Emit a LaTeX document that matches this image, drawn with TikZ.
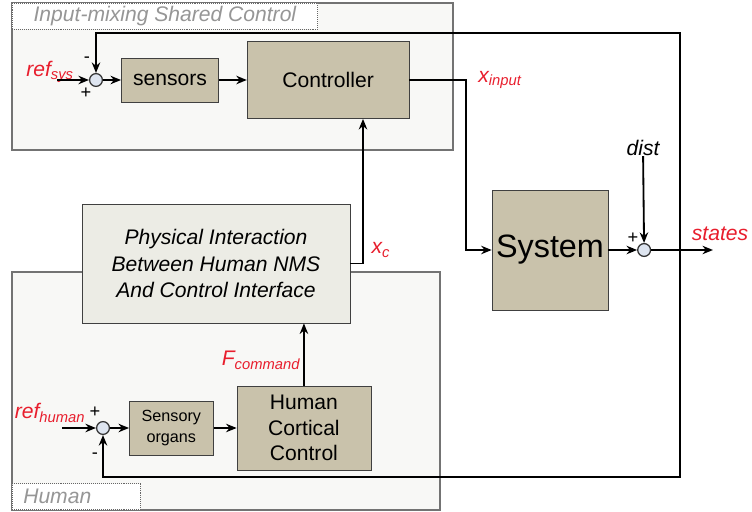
\documentclass[tikz,border=0pt]{standalone}
\usepackage{fontspec}
\setmainfont{Liberation Sans}
\usetikzlibrary{arrows.meta,positioning,calc}

\definecolor{blockfill}{RGB}{201,194,171}
\definecolor{plantfill}{RGB}{236,236,229}
\definecolor{panelfill}{RGB}{248,248,246}
\definecolor{panelline}{RGB}{115,115,115}
\definecolor{sumfill}{RGB}{222,229,240}
\definecolor{sigred}{RGB}{232,30,45}
\definecolor{taggray}{RGB}{150,150,150}

\begin{document}
\begin{tikzpicture}[
    x=0.025cm, y=-0.025cm,
    block/.style={rectangle, draw=black!75, fill=blockfill, align=center, inner sep=2pt, font=\fontsize{15}{18}\selectfont},
    sumpt/.style={circle, draw=black!80, fill=sumfill, minimum size=0.32cm, inner sep=0pt, line width=0.9pt},
    arrow/.style={->, >={Stealth[length=7.5pt, width=6pt]}, line width=1.3pt},
    signal/.style={text=sigred, font=\fontsize{15}{18}\selectfont\itshape, inner sep=0pt},
    sign/.style={font=\fontsize{13}{13}\selectfont, inner sep=0pt},
    panel/.style={draw=panelline, fill=panelfill, line width=0.8pt},
    tag/.style={draw=black!60, densely dotted, fill=white, text=taggray, font=\fontsize{15}{18}\selectfont\itshape, inner sep=0pt, minimum height=0.65cm}
]
    \useasboundingbox (0,0) rectangle (752,512);

    % the two shaded groups
    \draw[panel] (12,3) rectangle (453,150);
    \draw[panel] (12,272) rectangle (440,510);
    \node[tag, anchor=north west, minimum width=7.63cm] (sharedtag) at (12,3) {Input-mixing Shared Control};
    \node[tag, anchor=south west, text width=2.65cm, inner xsep=0.275cm, align=left] (humantag) at (12,510) {Human};

    % shared control loop
    \node[sumpt] (sumsys) at (96,80) {};
    \node[block, right=0.45cm of sumsys, minimum width=2.43cm, minimum height=1.1cm] (sensors) {sensors};
    \node[block, right=0.7cm of sensors, minimum width=4.05cm, minimum height=1.93cm] (ctrl) {Controller};

    % plant and disturbance
    \node[block, minimum width=2.9cm, minimum height=3cm, font=\fontsize{23}{26}\selectfont] (sys) at (550,250) {System};
    \node[sumpt, right=0.72cm of sys] (sumdist) {};
    \node[font=\fontsize{15}{18}\selectfont\itshape, inner sep=0pt] (dist) at (643,148) {dist};

    % interface between operator and controller
    \node[block, fill=plantfill, minimum width=6.7cm, minimum height=2.98cm, font=\fontsize{15}{19}\selectfont\itshape] (pi) at (216,263.5) {Physical Interaction\\Between Human NMS\\And Control Interface};

    % human loop
    \node[sumpt] (sumhum) at (103,428) {};
    \node[block, right=0.475cm of sumhum, minimum width=2.1cm, minimum height=1.35cm, font=\fontsize{11.5}{15}\selectfont] (organs) {Sensory\\organs};
    \node[block, right=0.575cm of organs, minimum width=3.35cm, minimum height=2.1cm, font=\fontsize{15}{18}\selectfont] (hcc) {Human\\Cortical\\Control};

    % signal names
    \node[signal] (refsys) at (50,72) {ref\textsubscript{sys}};
    \node[signal] (xinput) at (500,80) {x\textsubscript{input}};
    \node[signal] (xc) at (381,250) {x\textsubscript{c}};
    \node[signal] (fcmd) at (261,360) {F\textsubscript{command}};
    \node[signal] (refhum) at (50,413) {ref\textsubscript{human}};
    \node[signal] (states) at (720,234) {states};

    % signs at the summing points
    \node[sign] (sysminus) at (87,60) {-};
    \node[sign] (sysplus) at (86,93) {+};
    \node[sign] (humplus) at (95,412) {+};
    \node[sign] (humminus) at (95,456) {-};
    \node[sign] (distplus) at (633,238) {+};

    \coordinate (refsysin) at (57,80);
    \coordinate (refhumin) at (62,428);
    \coordinate (xbend) at (466,80);
    \coordinate (xcbend) at (363,263.5);
    \coordinate (out) at (713,250);
    \coordinate (fb) at (680,250);
    \coordinate (fbtop) at (96,33);
    \coordinate (fbbot) at (103,477);

    \draw[arrow] (refsysin) -- (sumsys);
    \draw[arrow] (sumsys) -- (sensors);
    \draw[arrow] (sensors) -- (ctrl);
    \draw[arrow] (ctrl.east) -- (xbend) |- (sys.west);
    \draw[arrow] (sys) -- (sumdist);
    \draw[arrow] (dist) -- (sumdist);
    \draw[arrow] (sumdist) -- (out);
    \draw[arrow] (fb) |- (fbtop) -- (sumsys);
    \draw[arrow] (fb) |- (fbbot) -- (sumhum);
    \draw[arrow] (pi.east) -- (xcbend) -- (xcbend |- ctrl.south);
    \draw[arrow] (refhumin) -- (sumhum);
    \draw[arrow] (sumhum) -- (organs);
    \draw[arrow] (organs) -- (hcc);
    \draw[arrow] (hcc) -- (hcc |- pi.south);
\end{tikzpicture}
\end{document}
